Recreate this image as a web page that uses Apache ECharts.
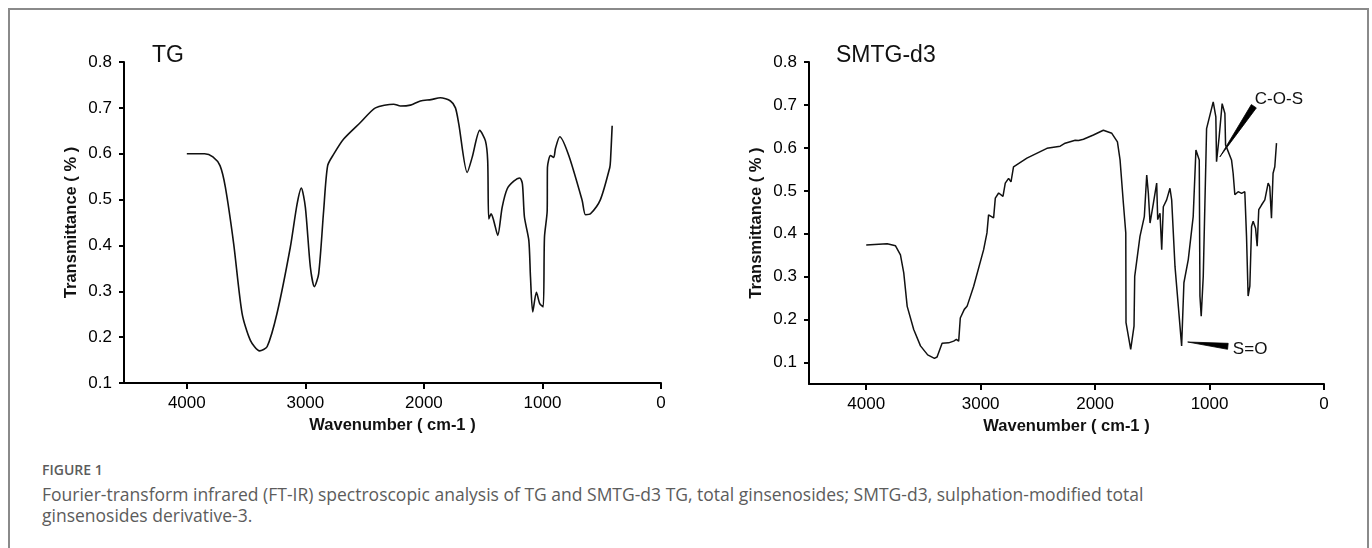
<!DOCTYPE html>
<html>
<head>
<meta charset="utf-8">
<script src="https://cdn.jsdelivr.net/npm/echarts@6/dist/echarts.min.js"></script>
<style>
  html, body { margin:0; padding:0; background:#fff; }
  body { width:1372px; height:548px; position:relative; overflow:hidden; }
  #frame { position:absolute; left:8px; top:8px; width:1361px; height:560px; border:2px solid #8a8a8a; border-bottom:none; box-sizing:border-box; }
  #chart { position:absolute; left:0; top:0; width:1372px; height:440px; }
  .cap { position:absolute; left:42px; font-family:"Open Sans", sans-serif; color:#5c5c5c; white-space:nowrap; line-height:1; }
  #figno { top:463px; font-size:14px; font-weight:600; }
  #cap1 { top:486px; font-size:17.5px; }
  #cap2 { top:507px; font-size:17.5px; }
</style>
</head>
<body>
<div id="frame"></div>
<div id="chart"></div>
<div class="cap" id="figno">FIGURE 1</div>
<div class="cap" id="cap1">Fourier-transform infrared (FT-IR) spectroscopic analysis of TG and SMTG-d3 TG, total ginsenosides; SMTG-d3, sulphation-modified total</div>
<div class="cap" id="cap2">ginsenosides derivative-3.</div>
<script>
// ---- data ----
const tgWavenumber = [4000,3850,3780,3720,3675,3605,3534,3464,3386,3323,3239,3127,3070,3034,3000,2958,2924,2888,2846,2812,2761,2677,2536,2409,2255,2198,2114,2030,1940,1861,1776,1734,1706,1635,1593,1529,1481,1462,1453,1433,1411,1377,1340,1298,1242,1191,1169,1152,1115,1101,1082,1051,1023,994,983,960,958,932,905,890,854,778,665,637,595,511,432,426,412];
const tgTransmittance = [0.600,0.600,0.593,0.574,0.527,0.404,0.252,0.193,0.170,0.179,0.252,0.396,0.490,0.525,0.483,0.353,0.310,0.338,0.475,0.574,0.599,0.632,0.668,0.700,0.708,0.704,0.706,0.715,0.718,0.722,0.715,0.700,0.665,0.559,0.592,0.651,0.628,0.585,0.458,0.469,0.454,0.422,0.483,0.523,0.540,0.547,0.534,0.462,0.411,0.331,0.255,0.298,0.273,0.266,0.418,0.476,0.570,0.596,0.592,0.612,0.637,0.596,0.498,0.467,0.469,0.500,0.570,0.585,0.661];

const smWavenumber = [4000,3817,3744,3701,3672,3642,3585,3526,3463,3404,3381,3337,3280,3236,3212,3192,3178,3143,3119,3061,2974,2945,2931,2887,2872,2843,2805,2785,2756,2735,2713,2596,2421,2305,2262,2174,2160,2145,2102,2015,1928,1854,1805,1782,1753,1732,1730,1689,1660,1654,1608,1570,1549,1535,1520,1491,1462,1453,1433,1418,1404,1375,1346,1331,1302,1244,1224,1186,1143,1119,1090,1084,1073,1055,1032,1026,968,945,939,916,890,866,860,808,794,779,750,720,692,677,663,648,633,619,598,584,570,546,517,488,474,459,445,430,415];
const smTransmittance = [0.374,0.377,0.372,0.351,0.309,0.231,0.177,0.139,0.118,0.110,0.113,0.145,0.146,0.150,0.154,0.150,0.204,0.224,0.231,0.278,0.363,0.402,0.444,0.437,0.483,0.495,0.487,0.518,0.529,0.521,0.556,0.576,0.599,0.604,0.611,0.618,0.621,0.617,0.620,0.630,0.641,0.634,0.614,0.572,0.471,0.402,0.193,0.131,0.185,0.301,0.394,0.440,0.537,0.495,0.425,0.471,0.518,0.433,0.448,0.363,0.463,0.479,0.506,0.479,0.324,0.139,0.286,0.340,0.440,0.595,0.572,0.255,0.208,0.301,0.572,0.645,0.707,0.672,0.568,0.626,0.703,0.680,0.607,0.572,0.541,0.491,0.498,0.494,0.498,0.394,0.255,0.278,0.417,0.429,0.413,0.371,0.456,0.467,0.479,0.518,0.510,0.436,0.541,0.556,0.611];

const xTicks = [4000,3000,2000,1000,0];
const yTicks = [0.1,0.2,0.3,0.4,0.5,0.6,0.7,0.8];

// annotation wedges: [tipX, tipY, baseX, baseY] in data units
const cosArrow = [910, 0.579, 613, 0.697];
const soArrow = [1191, 0.148, 840, 0.138];
const annotLabels = ['C-O-S', 'S=O'];

const panelTitles = ['TG', 'SMTG-d3'];
const xName = 'Wavenumber ( cm-1 )';
const yName = 'Transmittance ( % )';

// ---- chart ----
const FONT = '"Liberation Sans", Arial, sans-serif';
const zip = (a, b) => a.map((v, i) => [v, b[i]]);

function xAxis(idx, max) {
  return {
    gridIndex: idx, type: 'value', inverse: true, min: 0, max: max,
    name: xName, nameLocation: 'middle', nameGap: 32,
    nameTextStyle: { fontFamily: FONT, fontSize: 16.5, fontWeight: 'bold', color: '#111' },
    axisLine: { onZero: false, lineStyle: { color: '#000', width: 2 } },
    axisTick: { show: true, length: 6, customValues: xTicks, lineStyle: { color: '#000', width: 2 } },
    axisLabel: { customValues: xTicks, margin: 12, fontFamily: FONT, fontSize: 17, color: '#000',
                 formatter: v => String(v) },
    splitLine: { show: false }
  };
}
function yAxis(idx, min) {
  return {
    gridIndex: idx, type: 'value', min: min, max: 0.8,
    name: yName, nameLocation: 'middle', nameGap: 44, nameRotate: 90,
    nameTextStyle: { fontFamily: FONT, fontSize: 16.5, fontWeight: 'bold', color: '#111' },
    axisLine: { onZero: false, lineStyle: { color: '#000', width: 2 } },
    axisTick: { show: true, length: 5, customValues: yTicks, lineStyle: { color: '#000', width: 2 } },
    axisLabel: { customValues: yTicks, margin: 12, fontFamily: FONT, fontSize: 17, color: '#000',
                 formatter: v => v.toFixed(1) },
    splitLine: { show: false }
  };
}

function wedgeSeries(arrow, label, textDx, textDy) {
  return {
    type: 'custom', xAxisIndex: 1, yAxisIndex: 1, clip: false, silent: true,
    encode: { x: [0, 2], y: [1, 3] },
    data: [arrow],
    renderItem: function (params, api) {
      const tip = api.coord([api.value(0), api.value(1)]);
      const base = api.coord([api.value(2), api.value(3)]);
      const dx = base[0] - tip[0], dy = base[1] - tip[1];
      const len = Math.sqrt(dx * dx + dy * dy);
      const nx = -dy / len, ny = dx / len, hw = 3;
      return {
        type: 'group',
        children: [
          { type: 'polygon',
            shape: { points: [tip, [base[0] + nx * hw, base[1] + ny * hw], [base[0] - nx * hw, base[1] - ny * hw]] },
            style: { fill: '#000', stroke: '#000', lineWidth: 0.8 } },
          { type: 'text', x: base[0] + textDx, y: base[1] + textDy,
            style: { text: label, fill: '#111', font: '17px ' + FONT, align: 'left', verticalAlign: 'middle' } }
        ]
      };
    }
  };
}

const chart = echarts.init(document.getElementById('chart'), null, { renderer: 'canvas' });
chart.setOption({
  animation: false,
  backgroundColor: 'transparent',
  title: [
    { text: panelTitles[0], left: 152, top: 44, padding: 0,
      textStyle: { fontFamily: FONT, fontSize: 23, fontWeight: 'normal', color: '#111' } },
    { text: panelTitles[1], left: 836, top: 44, padding: 0,
      textStyle: { fontFamily: FONT, fontSize: 23, fontWeight: 'normal', color: '#111' } }
  ],
  grid: [
    { left: 124, top: 62, width: 537, height: 321 },
    { left: 809, top: 62, width: 515, height: 323 }
  ],
  xAxis: [xAxis(0, 4530), xAxis(1, 4500)],
  yAxis: [yAxis(0, 0.1), yAxis(1, 0.05)],
  series: [
    { type: 'line', xAxisIndex: 0, yAxisIndex: 0, data: zip(tgWavenumber, tgTransmittance),
      showSymbol: false, smooth: 0.25, lineStyle: { color: '#111', width: 1.6 } },
    { type: 'line', xAxisIndex: 1, yAxisIndex: 1, data: zip(smWavenumber, smTransmittance),
      showSymbol: false, smooth: false, lineStyle: { color: '#111', width: 1.5 } },
    wedgeSeries(cosArrow, annotLabels[0], 1, -7),
    wedgeSeries(soArrow, annotLabels[1], 5, 3)
  ]
});
</script>
</body>
</html>
